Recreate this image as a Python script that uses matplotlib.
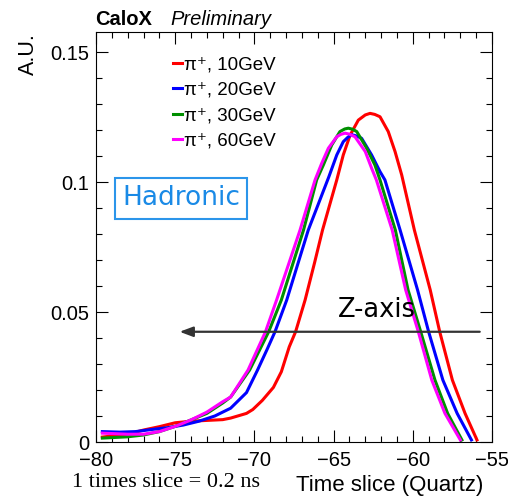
import matplotlib
matplotlib.use('Agg')
import matplotlib.pyplot as plt
from matplotlib.ticker import MultipleLocator, FuncFormatter

plt.rcParams['font.family'] = ['Liberation Sans', 'DejaVu Sans']

# pi+ 10 GeV
x10 = [-79.6, -78.0, -77.0, -76.0, -75.0, -74.0, -73.0, -72.0, -71.5, -70.5, -70.1, -69.5,
       -68.8, -68.3, -67.8, -67.4, -66.8, -66.2, -65.7, -64.8, -64.39, -63.96, -63.44, -63.0,
       -62.7, -62.4, -62.07, -61.55, -61.12, -60.7, -59.9, -58.9, -58.3, -57.5, -56.7, -55.95]
y10 = [0.0019, 0.003, 0.0046, 0.0059, 0.0074, 0.008, 0.0083, 0.0086, 0.0092, 0.011, 0.0125, 0.016,
       0.021, 0.027, 0.0366, 0.0424, 0.0546, 0.069, 0.0815, 0.1008, 0.1104, 0.118, 0.1238, 0.1258,
       0.1264, 0.126, 0.1251, 0.1194, 0.1117, 0.1027, 0.0815, 0.0585, 0.0424, 0.0238, 0.011, 0.0008]

# pi+ 20 GeV
x20 = [-79.6, -78.5, -77.5, -76.5, -75.5, -74.5, -73.5, -72.5, -71.5, -70.5, -69.8, -69.2,
       -68.7, -67.96, -66.6, -65.3, -64.8, -64.39, -64.1, -63.86, -63.6, -63.23, -62.6, -62.07,
       -61.76, -60.8, -59.7, -59.0, -58.1, -57.2, -56.3]
y20 = [0.0040, 0.0038, 0.004, 0.0048, 0.0055, 0.0065, 0.008, 0.0100, 0.013, 0.019, 0.0277, 0.0356,
       0.0424, 0.0546, 0.0815, 0.102, 0.1104, 0.1155, 0.1172, 0.1182, 0.1178, 0.1168, 0.1104, 0.104,
       0.1008, 0.0815, 0.0585, 0.0424, 0.0238, 0.011, 0.0008]

# pi+ 30 GeV
x30 = [-79.6, -78.0, -77.0, -76.0, -75.0, -74.0, -73.0, -72.0, -71.5, -70.3, -69.1, -68.3,
       -66.9, -66.07, -65.65, -65.12, -64.6, -64.3, -64.07, -63.8, -63.54, -62.91, -62.39, -62.07,
       -61.1, -60.3, -59.5, -58.6, -57.8, -56.9]
y30 = [0.0015, 0.002, 0.0027, 0.004, 0.006, 0.0085, 0.011, 0.015, 0.0173, 0.0277, 0.0424, 0.0546,
       0.0815, 0.1008, 0.1065, 0.1142, 0.1194, 0.1204, 0.1207, 0.1203, 0.1194, 0.113, 0.1065, 0.1008,
       0.0815, 0.0585, 0.0424, 0.0238, 0.011, 0.0008]

# pi+ 60 GeV
x60 = [-79.6, -78.0, -77.0, -76.0, -75.0, -74.0, -73.0, -72.0, -71.5, -70.4, -69.3, -68.6,
       -67.12, -66.17, -65.75, -65.33, -64.8, -64.55, -64.28, -64.0, -63.65, -63.0, -62.6, -62.3,
       -61.3, -60.45, -59.65, -58.8, -57.97, -57.0]
y60 = [0.0034, 0.003, 0.003, 0.004, 0.006, 0.0085, 0.0115, 0.0155, 0.0173, 0.0277, 0.0424, 0.0546,
       0.0815, 0.1008, 0.1072, 0.113, 0.1174, 0.1183, 0.1188, 0.1184, 0.1174, 0.1117, 0.1053, 0.1008,
       0.0815, 0.0585, 0.0424, 0.0238, 0.011, 0.0008]

labels = ['π⁺, 10GeV', 'π⁺, 20GeV', 'π⁺, 30GeV', 'π⁺, 60GeV']
colors = ['#ff0000', '#0000ff', '#008f00', '#ff00ff']

fig = plt.figure(figsize=(5.08, 4.97), dpi=100)
ax = fig.add_axes([96/508, 55/497, 396/508, 410/497])

for xs, ys, lab, c in zip([x10, x20, x30, x60], [y10, y20, y30, y60], labels, colors):
    ax.plot(xs, ys, color=c, lw=2.2, label=lab, solid_joinstyle='round')

ax.set_xlim(-80, -55)
ax.set_ylim(0, 0.1577)
ax.xaxis.set_major_locator(MultipleLocator(5))
ax.xaxis.set_minor_locator(MultipleLocator(1))
ax.yaxis.set_major_locator(MultipleLocator(0.05))
ax.yaxis.set_minor_locator(MultipleLocator(0.01))
ax.yaxis.set_major_formatter(FuncFormatter(lambda v, p: '%g' % round(v, 3)))
ax.tick_params(which='both', direction='in', top=True, right=True, width=0.8, labelsize=14.5)
ax.tick_params(which='major', length=8.5, pad=5)
ax.tick_params(which='minor', length=4.5)
ax.tick_params(axis='x', which='major', pad=6.5)
for s in ax.spines.values():
    s.set_linewidth(0.8)

leg = ax.legend(loc='upper left', bbox_to_anchor=(0.195, 0.94), frameon=False, fontsize=13.5,
                handlelength=0.45, handletextpad=0.15, labelspacing=0.43, borderpad=0, borderaxespad=0)

ax.annotate('', xy=(-74.9, 0.0424), xytext=(-55.6, 0.0424),
            arrowprops=dict(arrowstyle='-|>,head_length=0.8,head_width=0.3', color='#333333', lw=1.6),
            zorder=5)
ax.text(-64.72, 0.048, 'Z-axis', fontsize=18.5, family='DejaVu Sans', color='black', va='baseline')
ax.text(-74.63, 0.0937, 'Hadronic', fontsize=19, family='DejaVu Sans', color='#1a8ae6',
        ha='center', va='center',
        bbox=dict(boxstyle='square,pad=0.28', fc='white', ec='#2b95ea', lw=1.5))

fig.text(95/508, 1 - 25/497, 'CaloX', fontsize=14.5, weight='bold', va='baseline')
fig.text(170/508, 1 - 25/497, 'Preliminary', fontsize=14.5, style='italic', va='baseline')
fig.text(28/508, 1 - 33/497, 'A.U.', fontsize=15.5, rotation=90, ha='center', va='top')
fig.text(483/508, 6/497, 'Time slice (Quartz)', fontsize=16, ha='right', va='baseline')
fig.text(72/508, 10/497, '1 times slice = 0.2 ns', fontsize=16, family='Liberation Serif',
         va='baseline')

fig.savefig('out.png', dpi=100)
